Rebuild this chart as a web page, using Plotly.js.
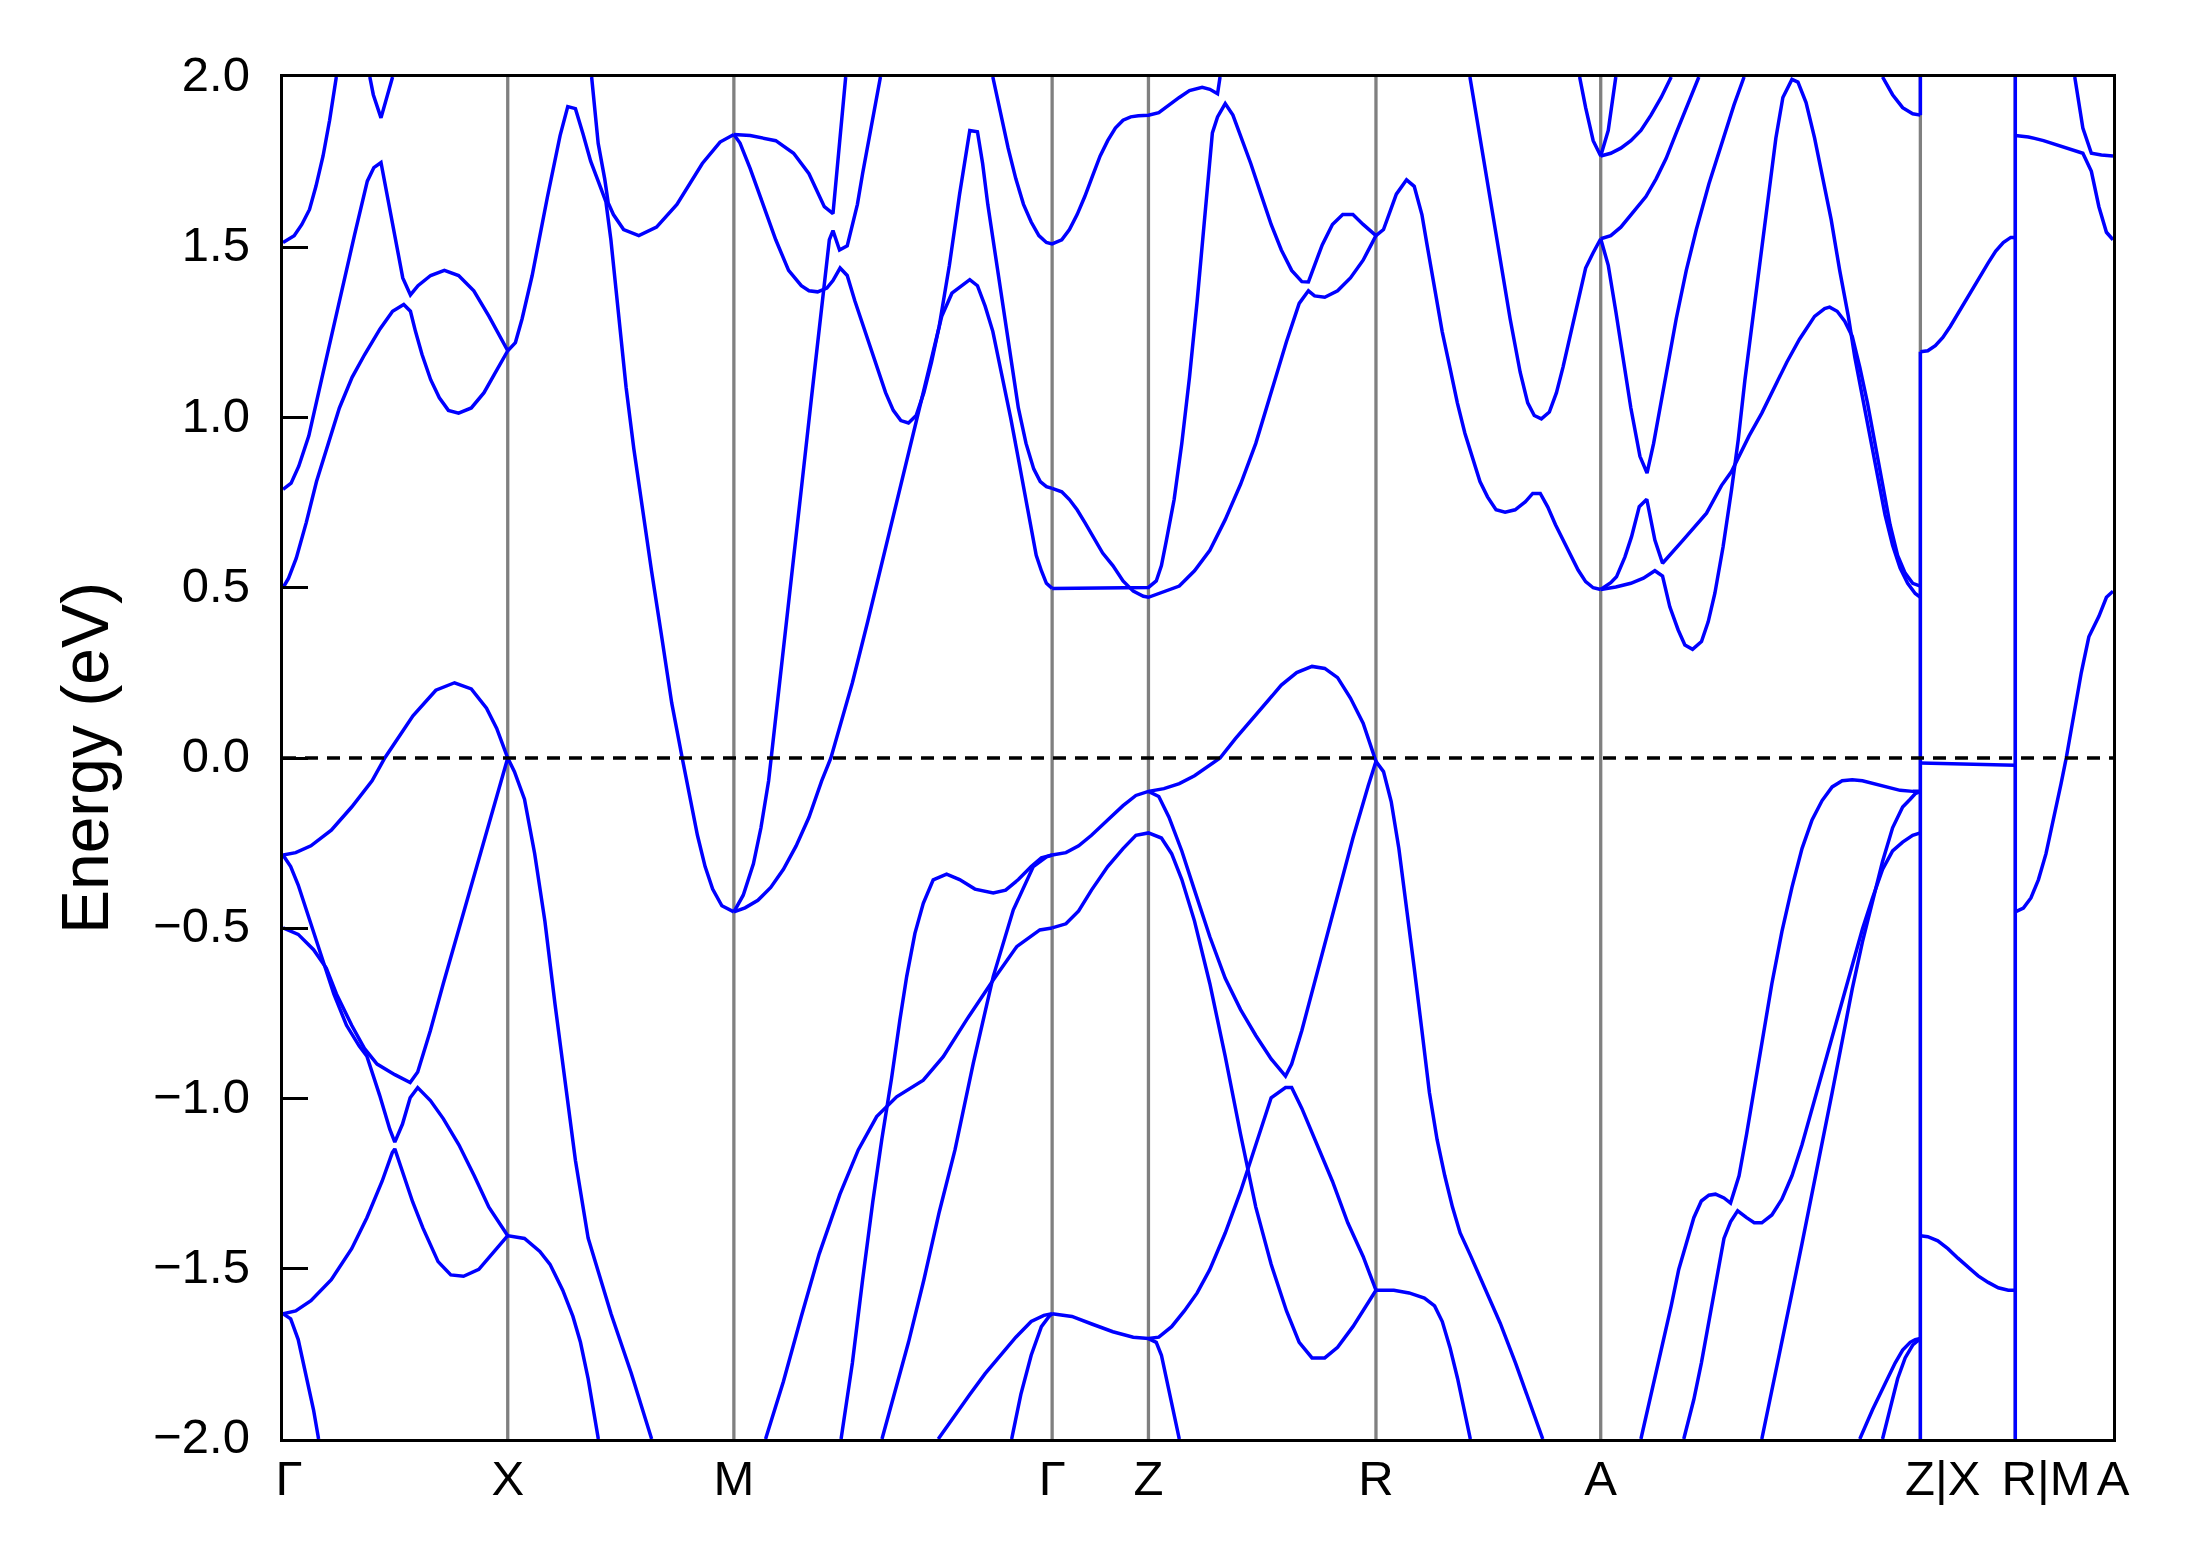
<!DOCTYPE html>
<html><head><meta charset="utf-8">
<script src="https://cdn.plot.ly/plotly-3.0.1.min.js"></script>
<style>html,body{margin:0;padding:0;background:#fff}#chart{width:2189px;height:1567px}</style>
</head><body><div id="chart"></div>
<script>
// High-symmetry path: line positions, label positions and label text
const kTicks = [0, 1.61, 3.23, 5.51, 6.20, 7.83, 9.44, 11.73, 12.41, 13.11];
const kLabelPos = [0.043, 1.61, 3.23, 5.51, 6.20, 7.83, 9.44, 11.89, 12.63, 13.11];
const kLabels = ['Γ', 'X', 'M', 'Γ', 'Z', 'R', 'A', 'Z|X', 'R|M', 'A'];
const eTicks = [-2, -1.5, -1, -0.5, 0, 0.5, 1, 1.5, 2];

// ---- Γ–X–M, conduction side ----
const gx1K = [0, .08, .135, .19, .236, .287, .334, .382];
const gx1E = [1.514, 1.534, 1.567, 1.611, 1.679, 1.768, 1.873, 2.0];
const gx2K = [.622, .647, .702, .742, .785];
const gx2E = [2.0, 1.948, 1.880, 1.940, 2.0];
const gx3K = [0, .058, .113, .185, .276, .385, .513, .604, .651, .702, .749, .804, .858, .913, .967, 1.058, 1.156, 1.258, 1.367, 1.476, 1.61];
const gx3E = [.789, .807, .857, .946, 1.111, 1.312, 1.537, 1.694, 1.734, 1.749, 1.649, 1.522, 1.410, 1.360, 1.387, 1.417, 1.432, 1.417, 1.372, 1.297, 1.196];
const xm3K = [1.61, 1.665, 1.713, 1.785, 1.895, 1.985, 2.04, 2.095, 2.149, 2.204, 2.258, 2.313, 2.349, 2.404, 2.458, 2.513, 2.575, 2.64, 2.713, 2.785, 2.86, 2.914, 2.969, 3.024, 3.078, 3.144, 3.23];
const xm3E = [1.196, 1.220, 1.290, 1.417, 1.649, 1.828, 1.913, 1.907, 1.833, 1.753, 1.694, 1.634, 1.522, 1.297, 1.088, .909, .729, .550, .356, .161, 0, -.113, -.227, -.319, -.385, -.434, -.452];
const xm4K = [2.211, 2.258, 2.305, 2.33, 2.367, 2.44, 2.549, 2.676, 2.822, 3.004, 3.131, 3.23];
const xm4E = [2.0, 1.805, 1.700, 1.63, 1.596, 1.552, 1.534, 1.559, 1.626, 1.746, 1.809, 1.831];
const gx5K = [0, .04, .095, .167, .24, .313, .404, .495, .585, .695, .785, .865, .913, .949, .996, 1.058, 1.12, 1.185, 1.258, 1.349, 1.44, 1.513, 1.61];
const gx5E = [.5, .528, .587, .692, .812, .909, 1.028, 1.118, 1.185, 1.260, 1.312, 1.332, 1.312, 1.253, 1.185, 1.111, 1.058, 1.021, 1.013, 1.028, 1.073, 1.126, 1.196];

// ---- Γ–X–M, valence side ----
const gv1K = [0, .091, .2, .346, .492, .638, .729, .931, 1.095, 1.229, 1.349, 1.458, 1.531, 1.61, 1.658, 1.73, 1.803, 1.876, 1.949, 2.022, 2.095, 2.186, 2.35, 2.495, 2.641];
const gv1E = [-.285, -.278, -.258, -.212, -.144, -.067, 0, .124, .199, .221, .203, .146, .087, 0, -.04, -.121, -.281, -.479, -.724, -.953, -1.182, -1.41, -1.632, -1.807, -2.0];
const gv2K = [0, .109, .219, .31, .383, .492, .583, .674, .801, .911, .965, 1.056, 1.148, 1.275, 1.403, 1.512, 1.61];
const gv2E = [-.499, -.518, -.563, -.617, -.693, -.785, -.853, -.899, -.930, -.953, -.922, -.8, -.663, -.479, -.296, -.144, 0];
const gv3K = [0, .055, .109, .182, .273, .364, .455, .546, .601, .692, .765, .801, .856, .911, .965, 1.056, 1.148, 1.26, 1.37, 1.475, 1.61];
const gv3E = [-.285, -.319, -.373, -.464, -.579, -.693, -.785, -.846, -.876, -.99, -1.090, -1.128, -1.075, -.998, -.968, -1.006, -1.059, -1.136, -1.227, -1.319, -1.403];
const gv4K = [0, .091, .2, .346, .492, .601, .71, .783, .801, .856, .929, 1.002, 1.111, 1.202, 1.293, 1.403, 1.512, 1.61, 1.73, 1.84, 1.913, 2.004, 2.077, 2.131, 2.186, 2.24, 2.259];
const gv4E = [-1.632, -1.624, -1.594, -1.532, -1.441, -1.350, -1.243, -1.159, -1.148, -1.212, -1.304, -1.380, -1.479, -1.518, -1.522, -1.502, -1.449, -1.403, -1.411, -1.449, -1.487, -1.563, -1.640, -1.716, -1.823, -1.960, -2.0];
const gv5K = [0, .055, .109, .164, .219, .255];
const gv5E = [-1.632, -1.647, -1.708, -1.808, -1.915, -2.0];

// ---- M–Γ–Z–R ----
const mg12K = [3.23, 3.297, 3.37, 3.424, 3.479, 3.497, 3.567, 3.64, 3.713, 3.786, 3.859, 3.914, 3.94, 3.987, 4.042, 4.079, 4.115, 4.152, 4.207, 4.28];
const mg12E = [-.452, -.403, -.311, -.205, -.067, 0, .266, .535, .789, 1.058, 1.327, 1.522, 1.549, 1.492, 1.504, 1.567, 1.626, 1.716, 1.836, 2.0];
const mg13K = [3.23, 3.347, 3.53, 3.658, 3.768, 3.878, 3.94, 4.031];
const mg13E = [1.831, 1.828, 1.813, 1.776, 1.716, 1.619, 1.599, 2.0];
const mg14K = [3.23, 3.274, 3.347, 3.439, 3.53, 3.622, 3.713, 3.768, 3.83, 3.896, 3.94, 3.991, 4.042, 4.097, 4.17, 4.244, 4.317, 4.372, 4.426, 4.481, 4.536, 4.591, 4.646, 4.701, 4.774, 4.847, 4.92, 4.975, 5.012, 5.049, 5.103, 5.158, 5.213, 5.268, 5.323, 5.378, 5.425, 5.469, 5.51];
const mg14E = [1.831, 1.806, 1.731, 1.626, 1.522, 1.432, 1.387, 1.372, 1.369, 1.380, 1.402, 1.439, 1.417, 1.342, 1.253, 1.163, 1.073, 1.021, .991, .984, 1.006, 1.073, 1.163, 1.268, 1.447, 1.656, 1.843, 1.839, 1.746, 1.626, 1.477, 1.327, 1.178, 1.028, .924, .849, .812, .797, .792];
const gr14K = [5.51, 5.579, 5.634, 5.689, 5.744, 5.799, 5.872, 5.945, 6.018, 6.091, 6.164, 6.20, 6.274, 6.421, 6.53, 6.64, 6.75, 6.86, 6.969, 7.079, 7.189, 7.28, 7.346, 7.39, 7.463, 7.555, 7.647, 7.738, 7.83];
const gr14E = [.792, .782, .759, .729, .692, .655, .602, .565, .520, .490, .475, .472, .483, .505, .550, .610, .700, .804, .924, 1.073, 1.223, 1.335, 1.372, 1.357, 1.353, 1.372, 1.410, 1.462, 1.534];
const ra14K = [7.83, 7.884, 7.976, 8.049, 8.104, 8.159, 8.196, 8.25, 8.304, 8.359, 8.413, 8.467, 8.521, 8.575, 8.629, 8.69, 8.755, 8.827, 8.899, 8.953, 9.007, 9.061, 9.116, 9.17, 9.224, 9.278, 9.332, 9.386, 9.44];
const ra14E = [1.534, 1.552, 1.656, 1.698, 1.679, 1.596, 1.507, 1.387, 1.253, 1.148, 1.043, .954, .879, .812, .767, .729, .722, .729, .752, .777, .777, .737, .685, .640, .595, .552, .518, .500, .495];
const mg15K = [3.23, 3.31, 3.402, 3.494, 3.585, 3.676, 3.768, 3.859, 3.925, 3.987, 4.079, 4.189, 4.298, 4.408, 4.518, 4.628, 4.719, 4.792, 4.866, 4.92, 4.975, 5.03, 5.085, 5.14, 5.213, 5.268, 5.323, 5.36, 5.396, 5.433, 5.469, 5.51];
const mg15E = [-.452, -.44, -.418, -.38, -.327, -.258, -.174, -.067, 0, .087, .221, .401, .587, .767, .954, 1.141, 1.297, 1.365, 1.390, 1.405, 1.387, 1.327, 1.253, 1.148, .999, .879, .759, .670, .595, .550, .513, .498];
const gr15K = [5.51, 6.20, 6.256, 6.293, 6.329, 6.384, 6.439, 6.494, 6.549, 6.604, 6.658, 6.695, 6.75, 6.805, 6.86, 6.933, 7.006, 7.079, 7.152, 7.226, 7.299, 7.346, 7.39, 7.445, 7.518, 7.592, 7.665, 7.738, 7.83];
const gr15E = [.498, .501, .520, .565, .640, .759, .924, 1.118, 1.342, 1.596, 1.836, 1.883, 1.922, 1.888, 1.828, 1.746, 1.656, 1.567, 1.492, 1.432, 1.399, 1.398, 1.447, 1.507, 1.567, 1.596, 1.596, 1.567, 1.534];
const gz16K = [5.085, 5.14, 5.195, 5.25, 5.305, 5.36, 5.415, 5.469, 5.51, 5.579, 5.634, 5.689, 5.744, 5.799, 5.854, 5.908, 5.963, 6.018, 6.073, 6.128, 6.20, 6.274, 6.347, 6.421, 6.494, 6.585, 6.64, 6.695, 6.713];
const gz16E = [2.0, 1.895, 1.791, 1.701, 1.626, 1.574, 1.534, 1.514, 1.510, 1.522, 1.552, 1.596, 1.649, 1.709, 1.768, 1.813, 1.850, 1.873, 1.883, 1.886, 1.888, 1.895, 1.918, 1.940, 1.960, 1.970, 1.964, 1.951, 2.0];
const gr17K = [5.51, 5.609, 5.7, 5.792, 5.908, 6.018, 6.11, 6.20, 6.311, 6.421, 6.53, 6.64, 6.713, 6.823, 6.933, 7.043, 7.152, 7.262, 7.372, 7.463, 7.555, 7.647, 7.738, 7.83];
const gr17E = [-.285, -.278, -.258, -.227, -.182, -.14, -.11, -.098, -.09, -.075, -.052, -.021, 0, .057, .109, .161, .214, .251, .269, .263, .236, .176, .102, -.01];
const zr18K = [6.20, 6.274, 6.347, 6.439, 6.53, 6.64, 6.75, 6.86, 6.969, 7.079, 7.182, 7.226, 7.299, 7.408, 7.537, 7.665, 7.774, 7.83, 7.884, 7.939, 7.994, 8.049, 8.104, 8.159, 8.213, 8.268, 8.323, 8.378, 8.433, 8.506, 8.58, 8.65, 8.72, 8.83, 8.935, 9.025];
const zr18E = [-.098, -.113, -.174, -.273, -.388, -.525, -.647, -.739, -.815, -.884, -.934, -.899, -.8, -.632, -.434, -.235, -.082, -.01, -.04, -.128, -.266, -.434, -.617, -.8, -.983, -1.121, -1.227, -1.319, -1.395, -1.46, -1.53, -1.6, -1.66, -1.777, -1.899, -2.0];
const gr19K = [5.51, 5.609, 5.7, 5.792, 5.908, 6.018, 6.11, 6.20, 6.293, 6.366, 6.439, 6.53, 6.64, 6.75, 6.86, 6.969, 7.079, 7.189, 7.28, 7.372, 7.463, 7.555, 7.665, 7.756, 7.83, 7.958, 8.067, 8.177, 8.25, 8.305, 8.36, 8.415, 8.469, 8.506];
const gr19E = [-.499, -.487, -.449, -.388, -.319, -.266, -.227, -.22, -.235, -.281, -.357, -.479, -.663, -.876, -1.105, -1.319, -1.487, -1.624, -1.716, -1.762, -1.762, -1.731, -1.670, -1.609, -1.563, -1.563, -1.571, -1.586, -1.609, -1.655, -1.731, -1.823, -1.93, -2.0];
const gr20K = [5.51, 5.652, 5.799, 5.945, 6.091, 6.20, 6.274, 6.366, 6.457, 6.549, 6.64, 6.75, 6.86, 6.969, 7.079, 7.182, 7.226, 7.299, 7.408, 7.518, 7.628, 7.738, 7.83];
const gr20E = [-1.632, -1.64, -1.663, -1.685, -1.701, -1.705, -1.701, -1.670, -1.624, -1.571, -1.502, -1.395, -1.273, -1.136, -.998, -.968, -.968, -1.029, -1.136, -1.243, -1.365, -1.464, -1.563];
const zr21K = [6.20, 6.256, 6.293, 6.329, 6.366, 6.421];
const zr21E = [-1.705, -1.716, -1.754, -1.823, -1.899, -2.0];
const mg22K = [3.457, 3.585, 3.713, 3.841, 3.99, 4.121, 4.253, 4.396, 4.587, 4.73, 4.897, 5.088, 5.256, 5.422, 5.51];
const mg22E = [-2.0, -1.831, -1.64, -1.457, -1.281, -1.151, -1.053, -.995, -.946, -.877, -.769, -.652, -.554, -.505, -.499];
const mg23K = [3.998, 4.079, 4.152, 4.225, 4.29, 4.36, 4.419, 4.468, 4.527, 4.587, 4.658, 4.754, 4.847, 4.957, 5.088, 5.177, 5.268, 5.36, 5.433, 5.51];
const mg23E = [-2.0, -1.777, -1.533, -1.304, -1.12, -.94, -.77, -.642, -.515, -.427, -.358, -.341, -.357, -.385, -.396, -.388, -.357, -.319, -.293, -.285];
const mg24K = [4.291, 4.39, 4.481, 4.591, 4.701, 4.814, 4.945, 5.088, 5.232, 5.375, 5.47, 5.51];
const mg24E = [-2.0, -1.853, -1.716, -1.533, -1.334, -1.151, -.897, -.642, -.446, -.319, -.29, -.285];
const mg25K = [4.694, 4.811, 4.92, 5.03, 5.14, 5.25, 5.36, 5.451, 5.51];
const mg25E = [-2.0, -1.93, -1.869, -1.808, -1.755, -1.701, -1.655, -1.637, -1.632];
const mg26K = [5.22, 5.286, 5.36, 5.433, 5.488, 5.51];
const mg26E = [-2.0, -1.869, -1.754, -1.670, -1.640, -1.632];

// ---- R–A–Z, conduction side ----
const ra27K = [8.503, 8.575, 8.647, 8.719, 8.791, 8.863, 8.917, 8.964, 9.015, 9.072, 9.123, 9.17, 9.224, 9.278, 9.332, 9.386, 9.44];
const ra27E = [2.0, 1.821, 1.641, 1.462, 1.29, 1.133, 1.043, 1.006, .996, 1.016, 1.073, 1.148, 1.245, 1.342, 1.439, 1.484, 1.525];
const az28K = [9.44, 9.494, 9.548, 9.602, 9.656, 9.721, 9.772, 9.819, 9.873, 9.927, 9.981, 10.053, 10.125, 10.215, 10.305, 10.395, 10.467];
const az28E = [1.525, 1.447, 1.312, 1.163, 1.028, .886, .837, .924, 1.043, 1.170, 1.290, 1.432, 1.552, 1.686, 1.806, 1.918, 2.0];
const az29K = [9.44, 9.512, 9.584, 9.656, 9.728, 9.8, 9.873, 9.945];
const az29E = [1.768, 1.776, 1.791, 1.813, 1.843, 1.888, 1.94, 2.0];
const az30K = [9.289, 9.332, 9.386, 9.44, 9.494, 9.548];
const az30E = [2.0, 1.91, 1.813, 1.768, 1.843, 2.0];
const az31K = [9.44, 9.512, 9.584, 9.656, 9.764, 9.837, 9.909, 9.981, 10.053, 10.143];
const az31E = [1.525, 1.534, 1.559, 1.596, 1.649, 1.701, 1.761, 1.836, 1.91, 2.0];
const az32K = [9.44, 9.512, 9.553, 9.613, 9.661, 9.716, 9.77, 9.828, 9.883, 9.945, 10.03, 10.198, 10.305, 10.377, 10.431, 10.503, 10.594, 10.684, 10.774, 10.864, 10.972, 11.044, 11.08, 11.134, 11.188, 11.242, 11.296, 11.351, 11.405, 11.459, 11.513, 11.567, 11.621, 11.675, 11.73];
const az32E = [.495, .515, .532, .590, .650, .738, .760, .640, .572, .600, .640, .719, .800, .841, .886, .946, 1.013, 1.088, 1.163, 1.23, 1.297, 1.32, 1.324, 1.312, 1.283, 1.238, 1.148, 1.043, .924, .804, .685, .595, .543, .513, .505];
const az33K = [9.44, 9.548, 9.656, 9.746, 9.828, 9.883, 9.935, 9.995, 10.043, 10.098, 10.162, 10.21, 10.258, 10.317, 10.377, 10.425, 10.473, 10.54, 10.594, 10.648, 10.695, 10.745, 10.81, 10.853, 10.911, 10.972, 11.026, 11.091, 11.152, 11.214, 11.26, 11.315, 11.369, 11.423, 11.477, 11.531, 11.585, 11.639, 11.693, 11.73];
const az33E = [.495, .502, .513, .528, .550, .534, .444, .376, .332, .319, .342, .400, .484, .621, .787, .934, 1.11, 1.327, 1.507, 1.671, 1.821, 1.94, 1.993, 1.985, 1.925, 1.821, 1.709, 1.581, 1.432, 1.297, 1.178, 1.058, .939, .819, .714, .625, .558, .513, .483, .472];
const az34K = [11.459, 11.531, 11.603, 11.675, 11.73];
const az34E = [2.0, 1.948, 1.91, 1.892, 1.888];

// ---- A–Z, valence side ----
const azH1K = [9.728, 9.8, 9.873, 9.945, 9.999, 10.053, 10.107, 10.161, 10.215, 10.262, 10.323, 10.37, 10.431, 10.485, 10.54, 10.594, 10.666, 10.738, 10.81, 10.882, 10.954, 11.026, 11.098, 11.17, 11.242, 11.315, 11.405, 11.495, 11.585, 11.675, 11.73];
const azH1E = [-2.0, -1.869, -1.747, -1.609, -1.502, -1.426, -1.35, -1.301, -1.284, -1.281, -1.292, -1.307, -1.227, -1.105, -.968, -.831, -.663, -.51, -.380, -.266, -.182, -.125, -.085, -.067, -.064, -.067, -.076, -.085, -.095, -.098, -.098];
const azH2K = [10.035, 10.107, 10.161, 10.215, 10.269, 10.323, 10.37, 10.421, 10.485, 10.54, 10.594, 10.666, 10.738, 10.81, 10.882, 10.954, 11.026, 11.098, 11.17, 11.242, 11.315, 11.387, 11.459, 11.531, 11.603, 11.675, 11.73];
const azH2E = [-2.0, -1.884, -1.777, -1.655, -1.533, -1.411, -1.362, -1.33, -1.35, -1.365, -1.365, -1.342, -1.296, -1.227, -1.136, -1.029, -.922, -.823, -.716, -.609, -.502, -.411, -.327, -.273, -.247, -.227, -.22];
const azH3K = [10.594, 10.666, 10.738, 10.81, 10.882, 10.954, 11.026, 11.098, 11.17, 11.242, 11.315, 11.387, 11.459, 11.531, 11.603, 11.657, 11.693, 11.73];
const azH3E = [-2.0, -1.853, -1.716, -1.571, -1.426, -1.281, -1.136, -.983, -.831, -.678, -.54, -.418, -.304, -.205, -.144, -.121, -.105, -.098];
const azH4K = [11.296, 11.387, 11.477, 11.549, 11.603, 11.657, 11.693, 11.73];
const azH4E = [-2.0, -1.914, -1.838, -1.777, -1.739, -1.716, -1.708, -1.705];
const azH5K = [11.459, 11.513, 11.567, 11.621, 11.675, 11.73];
const azH5E = [-2.0, -1.907, -1.823, -1.762, -1.724, -1.705];

// ---- X–R and M–A ----
const xr35K = [11.73, 11.783, 11.837, 11.891, 11.945, 11.999, 12.053, 12.108, 12.162, 12.216, 12.27, 12.324, 12.378, 12.41];
const xr35E = [1.193, 1.196, 1.211, 1.235, 1.268, 1.305, 1.342, 1.38, 1.42, 1.454, 1.489, 1.514, 1.529, 1.529];
const xr38K = [11.73, 12.41];
const xr38E = [-.015, -.021];
const xr39K = [11.73, 11.783, 11.855, 11.927, 11.999, 12.072, 12.144, 12.216, 12.288, 12.36, 12.41];
const xr39E = [-1.403, -1.406, -1.418, -1.441, -1.469, -1.495, -1.521, -1.54, -1.556, -1.563, -1.563];
const ma36K = [12.41, 12.504, 12.612, 12.72, 12.829, 12.894, 12.955, 13.009, 13.063, 13.11];
const ma36E = [1.828, 1.824, 1.813, 1.798, 1.783, 1.776, 1.723, 1.619, 1.544, 1.522];
const ma37K = [12.836, 12.894, 12.955, 13.027, 13.11];
const ma37E = [2.0, 1.85, 1.776, 1.771, 1.768];
const ma40K = [12.41, 12.468, 12.522, 12.576, 12.63, 12.684, 12.738, 12.775, 12.829, 12.883, 12.937, 13.009, 13.063, 13.11];
const ma40E = [-.452, -.441, -.411, -.357, -.281, -.182, -.075, 0, .132, .251, .356, .416, .472, .49];

// ---- jumps at the path breaks ----
const jumpZX1K = [11.73, 11.73];
const jumpZX1E = [1.888, 2.1];
const jumpZX2K = [11.73, 11.73];
const jumpZX2E = [1.193, -2.1];
const jumpRMK = [12.41, 12.41];
const jumpRME = [2.1, -2.1];

const bands = [
  [gx1K, gx1E], [gx2K, gx2E], [gx3K, gx3E], [xm3K, xm3E], [xm4K, xm4E], [gx5K, gx5E],
  [gv1K, gv1E], [gv2K, gv2E], [gv3K, gv3E], [gv4K, gv4E], [gv5K, gv5E],
  [mg12K, mg12E], [mg13K, mg13E], [mg14K, mg14E], [gr14K, gr14E], [ra14K, ra14E],
  [mg15K, mg15E], [gr15K, gr15E], [gz16K, gz16E], [gr17K, gr17E], [zr18K, zr18E],
  [gr19K, gr19E], [gr20K, gr20E], [zr21K, zr21E], [mg22K, mg22E], [mg23K, mg23E],
  [mg24K, mg24E], [mg25K, mg25E], [mg26K, mg26E],
  [ra27K, ra27E], [az28K, az28E], [az29K, az29E], [az30K, az30E], [az31K, az31E],
  [az32K, az32E], [az33K, az33E], [az34K, az34E],
  [azH1K, azH1E], [azH2K, azH2E], [azH3K, azH3E], [azH4K, azH4E], [azH5K, azH5E],
  [xr35K, xr35E], [xr38K, xr38E], [xr39K, xr39E], [ma36K, ma36E], [ma37K, ma37E], [ma40K, ma40E],
  [jumpZX1K, jumpZX1E], [jumpZX2K, jumpZX2E], [jumpRMK, jumpRME]
];

const traces = bands.map(([k, e]) => ({
  x: k, y: e, type: 'scatter', mode: 'lines',
  line: {color: '#0000ff', width: 3.5},
  hoverinfo: 'skip', showlegend: false
}));

const FONT = 'Liberation Sans, Arial, sans-serif';
const shapes = kTicks.slice(1, -1).map(k => ({
  type: 'line', xref: 'x', yref: 'paper', x0: k, x1: k, y0: 0, y1: 1,
  line: {color: '#808080', width: 3.3}, layer: 'below'
}));
shapes.push({
  type: 'line', xref: 'paper', yref: 'y', x0: 0, x1: 1, y0: 0, y1: 0,
  line: {color: '#000000', width: 3.3, dash: '13px,9px'}, layer: 'above'
});

const layout = {
  width: 2189, height: 1567,
  margin: {l: 283, r: 76, t: 77, b: 128, pad: 0},
  paper_bgcolor: '#ffffff', plot_bgcolor: '#ffffff',
  font: {family: FONT, color: '#000000', size: 49},
  showlegend: false,
  xaxis: {
    range: [0, kTicks[kTicks.length - 1]], tickmode: 'array',
    tickvals: kLabelPos, ticktext: kLabels, tickangle: 0,
    ticks: '', showgrid: false, zeroline: false,
    showline: true, mirror: true, linecolor: '#000000', linewidth: 3.3,
    tickfont: {family: FONT, size: 49, color: '#000000'},
    ticklabelstandoff: -6
  },
  yaxis: {
    range: [eTicks[0], eTicks[eTicks.length - 1]], tickmode: 'array',
    tickvals: eTicks, tickformat: '.1f',
    ticks: 'inside', ticklen: 25, tickwidth: 3, tickcolor: '#000000',
    showgrid: false, zeroline: false,
    showline: true, mirror: true, linecolor: '#000000', linewidth: 3.3,
    tickfont: {family: FONT, size: 49, color: '#000000'},
    ticklabelstandoff: 20, ticklabelshift: -3,
    title: {text: 'Energy (eV)', font: {family: FONT, size: 66, color: '#000000'}, standoff: 24}
  },
  shapes: shapes
};

Plotly.newPlot('chart', traces, layout, {staticPlot: true, displayModeBar: false});
</script>
</body></html>
